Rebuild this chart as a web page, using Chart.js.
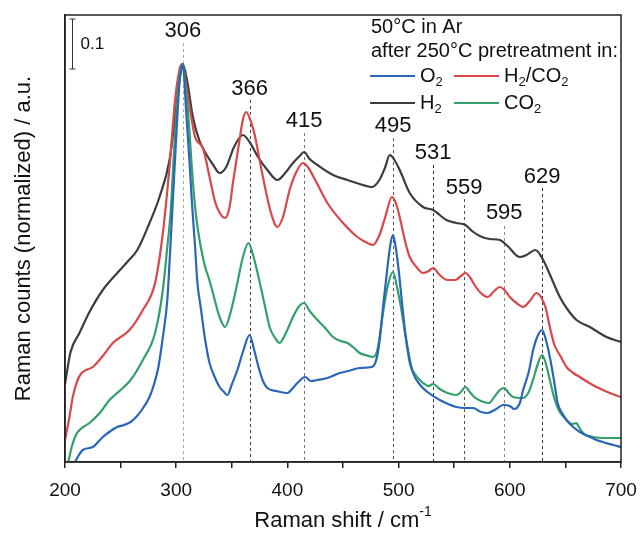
<!DOCTYPE html>
<html>
<head>
<meta charset="utf-8">
<script src="https://cdn.jsdelivr.net/npm/chart.js@4/dist/chart.umd.min.js"></script>
<style>
body { margin: 0; background: #fff; }
#wrap { width: 640px; height: 533px; position: relative; }
</style>
</head>
<body>
<div id="wrap"><canvas id="chartRaman"></canvas></div>
<script>
// Raman spectra, normalized to the 306 band (arbitrary units)
var xO2 = [209,212,216,225,234,241,247,253,259,264,269,276,280,284,288,292,295,297,301,303,305,306,309,312,314,317,319,322,326,330,335,339,343,346,350,355,360,366,370,374,378,382,390,400,405,409,416,421,427,436,447,455,465,476,480,483,486,490,493,495,497,500,503,506,510,513,519,526,537,552,560,567,574,580,587,594,600,604,609,612,617,621,625,629,632,636,640,643,647,651,657,663,670,678,693,700];
var yO2 = [0,0.012,0.024,0.03,0.05,0.062,0.07,0.074,0.08,0.09,0.104,0.13,0.155,0.19,0.25,0.324,0.44,0.524,0.69,0.76,0.79,0.794,0.70,0.60,0.524,0.43,0.36,0.31,0.245,0.198,0.168,0.15,0.14,0.134,0.155,0.184,0.22,0.254,0.225,0.19,0.162,0.148,0.142,0.138,0.148,0.158,0.17,0.162,0.164,0.168,0.178,0.182,0.188,0.19,0.205,0.244,0.31,0.39,0.44,0.454,0.435,0.385,0.32,0.258,0.205,0.178,0.155,0.14,0.124,0.11,0.108,0.108,0.1,0.098,0.105,0.114,0.112,0.106,0.118,0.144,0.18,0.224,0.252,0.264,0.248,0.21,0.16,0.118,0.098,0.084,0.07,0.06,0.052,0.044,0.034,0.03];

var xCO2 = [203,206,210,214,222,232,240,250,259,270,281,288,292,295,299,303,306,308,311,315,318,321,326,329,333,339,344,349,355,360,365,369,374,380,384,389,393,398,405,410,415,420,427,434,441,448,454,460,465,470,477,481,486,490,495,499,503,507,510,516,522,527,531,537,544,552,556,560,564,568,574,581,586,591,595,599,603,612,617,621,625,629,632,636,640,644,651,656,660,662,667,675,688,700];
var yCO2 = [0,0.03,0.055,0.066,0.078,0.1,0.124,0.144,0.164,0.204,0.258,0.344,0.43,0.5,0.658,0.77,0.796,0.76,0.69,0.56,0.49,0.444,0.39,0.37,0.338,0.29,0.27,0.3,0.358,0.41,0.438,0.415,0.37,0.31,0.27,0.248,0.238,0.255,0.29,0.31,0.318,0.302,0.284,0.268,0.25,0.242,0.238,0.228,0.218,0.214,0.21,0.225,0.298,0.35,0.38,0.345,0.298,0.24,0.198,0.172,0.158,0.152,0.156,0.146,0.138,0.134,0.14,0.15,0.14,0.13,0.122,0.118,0.13,0.144,0.148,0.138,0.13,0.128,0.14,0.165,0.195,0.214,0.2,0.164,0.128,0.104,0.084,0.076,0.078,0.07,0.056,0.05,0.048,0.048];

var xH2CO2 = [200,204,207,211,215,225,234,243,258,270,281,288,294,299,303,305,311,317,324,330,335,340,344,348,351,356,360,363,366,370,378,385,391,396,402,408,414,419,425,436,450,463,472,477,483,488,494,498,502,506,510,516,522,527,531,537,544,551,556,560,564,568,574,580,586,591,596,600,606,612,618,624,628,632,636,640,646,651,657,663,670,678,690,700];
var yH2CO2 = [0.044,0.09,0.13,0.162,0.178,0.19,0.212,0.238,0.264,0.304,0.358,0.458,0.59,0.724,0.785,0.796,0.724,0.65,0.628,0.57,0.52,0.495,0.488,0.51,0.558,0.63,0.685,0.70,0.688,0.66,0.57,0.5,0.47,0.49,0.544,0.58,0.598,0.588,0.564,0.518,0.478,0.45,0.438,0.434,0.455,0.49,0.53,0.515,0.48,0.44,0.41,0.39,0.378,0.382,0.388,0.374,0.364,0.364,0.372,0.378,0.37,0.355,0.338,0.33,0.342,0.35,0.342,0.33,0.318,0.31,0.322,0.338,0.33,0.31,0.27,0.235,0.21,0.19,0.178,0.17,0.16,0.15,0.138,0.13];

var xH2 = [200,205,213,222,234,247,256,265,276,285,294,299,303,306,310,315,321,328,333,339,345,352,360,366,373,382,391,398,405,411,415,420,427,441,454,465,476,483,488,492,496,501,510,522,531,543,552,560,566,573,582,591,598,609,615,623,630,637,645,652,660,672,687,700];
var yH2 = [0.156,0.22,0.258,0.3,0.344,0.378,0.4,0.424,0.478,0.53,0.604,0.69,0.765,0.796,0.76,0.69,0.642,0.612,0.595,0.578,0.59,0.63,0.654,0.64,0.612,0.584,0.564,0.578,0.598,0.612,0.62,0.606,0.594,0.574,0.564,0.556,0.55,0.565,0.59,0.614,0.605,0.584,0.538,0.51,0.504,0.484,0.478,0.474,0.462,0.452,0.446,0.444,0.432,0.41,0.414,0.424,0.404,0.37,0.33,0.305,0.284,0.27,0.25,0.24];

// band positions, and the height (in y units) of their labels / line tops
var bandPos = [306, 366, 415, 495, 531, 559, 595, 629];
var bandLabelY = [0.862, 0.746, 0.682, 0.672, 0.618, 0.548, 0.498, 0.57];
var bandLineTop = [0.838, 0.724, 0.658, 0.648, 0.594, 0.526, 0.472, 0.548];
var bandLineColor = ['#aaa', '#444', '#777', '#555', '#333', '#555', '#888', '#333'];

var xTicks = [200, 300, 400, 500, 600, 700];

function toPoints(xs, ys) {
  var pts = [];
  for (var i = 0; i < xs.length; i++) pts.push({ x: xs[i], y: ys[i] });
  return pts;
}

var FONT = '"Liberation Sans", Arial, sans-serif';
var colBlue = '#2a66b8', colRed = '#d9474a', colBlack = '#3d3d3d', colGreen = '#33a06a';

function textSub(ctx, parts, x, y, size) {
  // parts: [[text, 'n'|'sub'|'sup'], ...]
  for (var i = 0; i < parts.length; i++) {
    var t = parts[i][0], k = parts[i][1];
    if (k === 'n') { ctx.font = size + 'px ' + FONT; ctx.fillText(t, x, y); }
    else if (k === 'sub') { ctx.font = Math.round(size * 0.65) + 'px ' + FONT; ctx.fillText(t, x, y + size * 0.3); }
    else { ctx.font = Math.round(size * 0.65) + 'px ' + FONT; ctx.fillText(t, x, y - size * 0.4); }
    x += ctx.measureText(t).width;
  }
  return x;
}

var ramanDecor = {
  id: 'ramanDecor',
  beforeDatasetsDraw: function(chart) {
    var ctx = chart.ctx, xs = chart.scales.x, ys = chart.scales.y;
    ctx.save();
    ctx.lineWidth = 1;
    ctx.setLineDash([3, 3]);
    for (var i = 0; i < bandPos.length; i++) {
      var px = Math.round(xs.getPixelForValue(bandPos[i])) + 0.5;
      ctx.strokeStyle = bandLineColor[i];
      ctx.beginPath();
      ctx.moveTo(px, ys.getPixelForValue(bandLineTop[i]));
      ctx.lineTo(px, chart.chartArea.bottom);
      ctx.stroke();
    }
    ctx.restore();
  },
  afterDraw: function(chart) {
    var ctx = chart.ctx, xs = chart.scales.x, ys = chart.scales.y, a = chart.chartArea;
    ctx.save();
    // frame
    ctx.strokeStyle = '#222';
    ctx.lineWidth = 1.5;
    ctx.strokeRect(a.left, a.top, a.right - a.left, a.bottom - a.top);

    // band labels
    ctx.fillStyle = '#111';
    ctx.font = '22px ' + FONT;
    ctx.textAlign = 'center';
    ctx.textBaseline = 'middle';
    for (var i = 0; i < bandPos.length; i++) {
      ctx.fillText(String(bandPos[i]), xs.getPixelForValue(bandPos[i]), ys.getPixelForValue(bandLabelY[i]));
    }

    // 0.1 scale bar
    var bx = a.left + 7.5, bTop = ys.getPixelForValue(0.886), bBot = ys.getPixelForValue(0.786);
    ctx.strokeStyle = '#333';
    ctx.lineWidth = 1;
    ctx.beginPath();
    ctx.moveTo(bx, bTop); ctx.lineTo(bx, bBot);
    ctx.moveTo(bx - 3, bTop); ctx.lineTo(bx + 3, bTop);
    ctx.moveTo(bx - 3, bBot); ctx.lineTo(bx + 3, bBot);
    ctx.stroke();
    ctx.textAlign = 'left';
    ctx.font = '17px ' + FONT;
    ctx.fillText('0.1', bx + 8, (bTop + bBot) / 2);

    // legend
    ctx.textBaseline = 'middle';
    ctx.font = '20px ' + FONT;
    ctx.fillText('50\u00B0C in Ar', 371, 27);
    ctx.fillText('after 250\u00B0C pretreatment in:', 371, 51);
    var rows = [
      [[colBlue, [['O', 'n'], ['2', 'sub']]], [colRed, [['H', 'n'], ['2', 'sub'], ['/CO', 'n'], ['2', 'sub']]]],
      [[colBlack, [['H', 'n'], ['2', 'sub']]], [colGreen, [['CO', 'n'], ['2', 'sub']]]]
    ];
    var colX = [370, 454];
    for (var r = 0; r < rows.length; r++) {
      var ly = 76 + r * 27;
      for (var c = 0; c < 2; c++) {
        ctx.strokeStyle = rows[r][c][0];
        ctx.lineWidth = 2;
        ctx.beginPath();
        ctx.moveTo(colX[c], ly); ctx.lineTo(colX[c] + 45, ly);
        ctx.stroke();
        ctx.fillStyle = '#111';
        textSub(ctx, rows[r][c][1], colX[c] + 50, ly, 20);
      }
    }

    // axis titles
    ctx.fillStyle = '#111';
    ctx.textBaseline = 'middle';
    ctx.font = '22px ' + FONT;
    var title = 'Raman shift / cm';
    var tw = ctx.measureText(title).width;
    ctx.font = '14px ' + FONT;
    var sw = ctx.measureText('-1').width;
    var tx = (a.left + a.right) / 2 - (tw + sw) / 2;
    textSub(ctx, [['Raman shift / cm', 'n'], ['-1', 'sup']], tx, 521, 22);

    ctx.translate(24, (a.top + a.bottom) / 2);
    ctx.rotate(-Math.PI / 2);
    ctx.textAlign = 'center';
    ctx.font = '22px ' + FONT;
    ctx.fillText('Raman counts (normalized) / a.u.', 0, 0);
    ctx.restore();
  }
};

function ds(label, xs, ys, color) {
  return {
    label: label,
    data: toPoints(xs, ys),
    borderColor: color,
    borderWidth: 2.2,
    pointRadius: 0,
    fill: false,
    cubicInterpolationMode: 'monotone'
  };
}

var chartRaman = new Chart(document.getElementById('chartRaman'), {
  type: 'line',
  data: {
    datasets: [
      ds('O2', xO2, yO2, colBlue),
      ds('CO2', xCO2, yCO2, colGreen),
      ds('H2/CO2', xH2CO2, yH2CO2, colRed),
      ds('H2', xH2, yH2, colBlack)
    ]
  },
  options: {
    responsive: true,
    maintainAspectRatio: false,
    animation: false,
    layout: { padding: { top: 15, right: 19, left: 0, bottom: 0 } },
    plugins: { legend: { display: false }, tooltip: { enabled: false } },
    scales: {
      x: {
        type: 'linear',
        min: 200,
        max: 700,
        afterFit: function(s) { s.height = 71; s.paddingLeft = 0; s.paddingRight = 0; },
        afterBuildTicks: function(s) {
          var t = [];
          for (var v = 200; v <= 700; v += 50) t.push({ value: v });
          s.ticks = t;
        },
        grid: { drawOnChartArea: false, color: '#222', tickLength: 6, lineWidth: 1.5 },
        border: { color: '#222', width: 1.5 },
        ticks: {
          color: '#111',
          padding: 11,
          maxRotation: 0,
          font: { family: FONT, size: 19 },
          callback: function(v) { return xTicks.indexOf(v) >= 0 ? String(v) : ''; }
        }
      },
      y: {
        min: 0,
        max: 0.894,
        afterFit: function(s) { s.width = 65; },
        grid: { display: false },
        border: { color: '#222', width: 1.5 },
        ticks: { display: false }
      }
    }
  },
  plugins: [ramanDecor]
});
</script>
</body>
</html>
